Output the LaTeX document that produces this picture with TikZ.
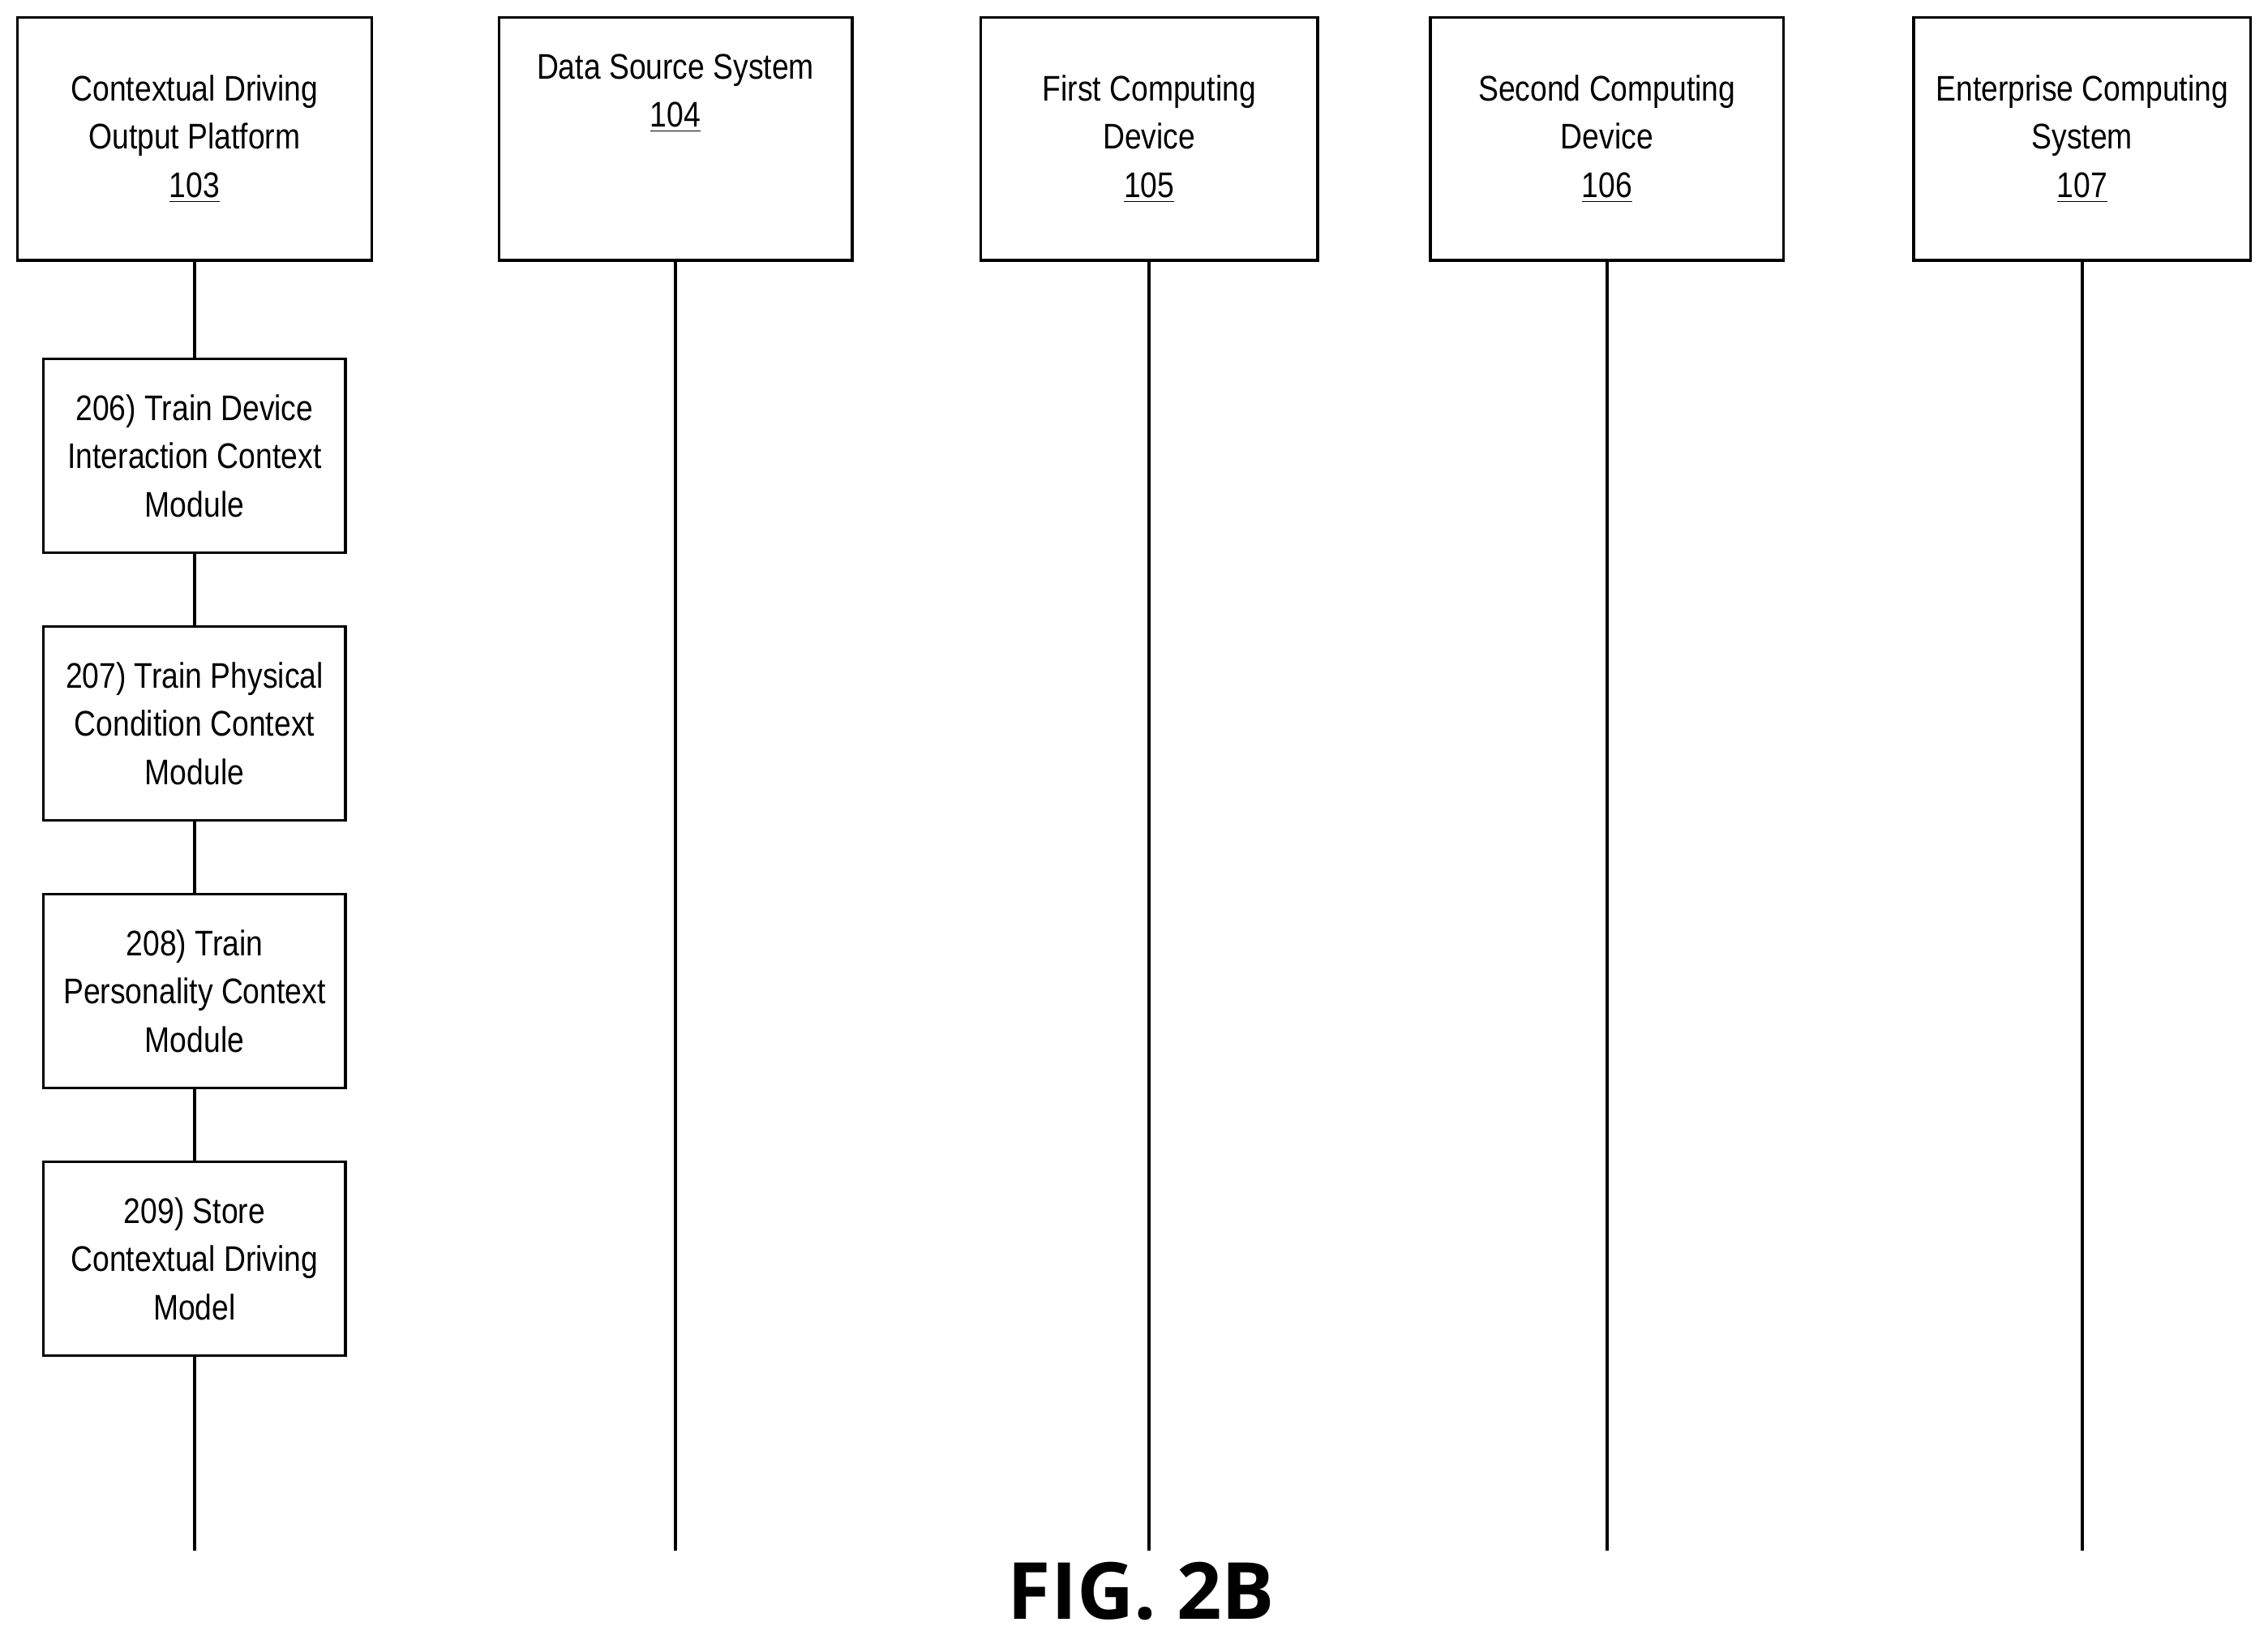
\documentclass[tikz,border=0pt]{standalone}
\usepackage{fontspec}
\setmainfont{Liberation Sans}[FakeStretch=0.85]
\newfontfamily\figfont{Open Sans}
\begin{document}
\begin{tikzpicture}[x=0.02cm,y=-0.02cm,
  ent/.style={draw,line width=1.2pt,align=center,font=\fontsize{14pt}{19pt}\selectfont},
  stepbox/.style={draw,line width=1.2pt,minimum width=4.18cm,minimum height=2.68cm,align=center,inner sep=0pt,font=\fontsize{14pt}{19pt}\selectfont},
  life/.style={line width=1.2pt}]
\useasboundingbox (0,0) rectangle (1568,1130);
\node[ent,minimum width=4.9cm,minimum height=3.36cm] (p103) at (134.5,96) {Contextual Driving\\Output Platform\\\underline{103}};
\node[ent,minimum width=4.88cm,minimum height=3.36cm] (p104) at (467,96) {Data Source System\\\underline{104}\\[19pt]};
\node[ent,minimum width=4.66cm,minimum height=3.36cm] (p105) at (794.5,96) {First Computing\\Device\\\underline{105}};
\node[ent,minimum width=4.88cm,minimum height=3.36cm] (p106) at (1111,96) {Second Computing\\Device\\\underline{106}};
\node[ent,minimum width=4.66cm,minimum height=3.36cm] (p107) at (1439.5,96) {Enterprise Computing\\System\\\underline{107}};
\node[stepbox] (s206) at (134.5,315) {206) Train Device\\Interaction Context\\Module};
\node[stepbox] (s207) at (134.5,500) {207) Train Physical\\Condition Context\\Module};
\node[stepbox] (s208) at (134.5,685) {208) Train\\Personality Context\\Module};
\node[stepbox] (s209) at (134.5,870) {209) Store\\Contextual Driving\\Model};
\coordinate (e103) at (134.5,1072);
\coordinate (e104) at (467,1072);
\coordinate (e105) at (794.5,1072);
\coordinate (e106) at (1111,1072);
\coordinate (e107) at (1439.5,1072);
\draw[life] (p103) -- (s206);
\draw[life] (s206) -- (s207);
\draw[life] (s207) -- (s208);
\draw[life] (s208) -- (s209);
\draw[life] (s209) -- (e103);
\draw[life] (p104) -- (e104);
\draw[life] (p105) -- (e105);
\draw[life] (p106) -- (e106);
\draw[life] (p107) -- (e107);
\node[font=\figfont\bfseries\fontsize{31pt}{36pt}\selectfont] (fig) at (789,1100) {FIG. 2B};
\end{tikzpicture}
\end{document}
